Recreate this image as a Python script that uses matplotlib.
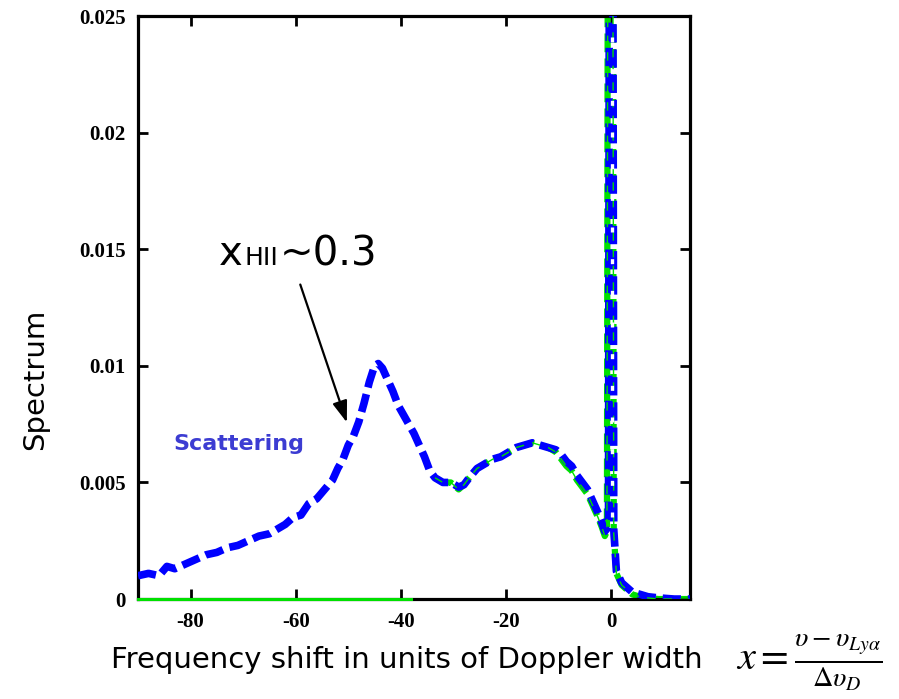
import matplotlib
matplotlib.use("Agg")
import matplotlib.pyplot as plt
from matplotlib.offsetbox import TextArea, HPacker, AnnotationBbox

# Spectrum (x in Doppler widths)
blue_x = [-90, -88, -86, -84.5, -83, -81, -79, -77, -75, -73, -71, -69, -67, -65,
          -63.5, -62, -60.5, -59, -57.5, -56, -54.5, -53, -52, -51, -50, -49, -48,
          -47, -46, -45, -44.3, -43.5, -42.5, -41.5, -40.5, -39.5, -38.5, -37.5,
          -36.5, -35.5, -34.5, -33.5, -32, -30.5, -29, -28, -27, -25.5, -24, -22.5,
          -21, -19.5, -18, -16.5, -15, -13.5, -12, -10.5, -9.5, -8.5, -7.5, -6.5,
          -5.5, -4.5, -3.5, -2.5, -1.8, -1.2, -0.5, -0.2, 0.2, 0.5, 1.0, 2.0, 3.0,
          4.0, 5.5, 7, 9, 12, 15]
blue_y = [0.0010, 0.0011, 0.0010, 0.0014, 0.0013, 0.0015, 0.0017, 0.0019, 0.0020,
          0.0022, 0.0023, 0.0025, 0.0027, 0.0028, 0.0030, 0.0032, 0.0035, 0.0036,
          0.0041, 0.0043, 0.0047, 0.0051, 0.0056, 0.0060, 0.0066, 0.0070, 0.0076,
          0.0084, 0.0093, 0.0100, 0.0101, 0.0099, 0.0094, 0.0089, 0.0083, 0.0079,
          0.0075, 0.0071, 0.0066, 0.0061, 0.0055, 0.0052, 0.0050, 0.0050, 0.0048,
          0.0049, 0.0052, 0.0056, 0.0058, 0.0060, 0.0061, 0.0063, 0.0065, 0.0066,
          0.0067, 0.0066, 0.0065, 0.0064, 0.0062, 0.0059, 0.0057, 0.0053, 0.0050,
          0.0047, 0.0042, 0.0037, 0.0033, 0.0029, 0.0031, 0.0500, 0.0500, 0.0030,
          0.0012, 0.0007, 0.0005, 0.0003, 0.0002, 0.0001, 0.00005, 0.0, 0.0]

green_x = [-33.5, -32, -30.5, -29, -28, -27, -25.5, -24, -22.5, -21, -19.5, -18,
           -16.5, -15, -13.5, -12, -10.5, -9.5, -8.5, -7.5, -6.5, -5.5, -4.5, -3.5,
           -2.5, -1.8, -1.2, -0.8, -0.5, 0.2, 0.5, 1.0, 2.0, 3.0, 4.0, 5.5, 7, 9, 12, 15]
green_y = [0.0052, 0.0050, 0.0050, 0.0047, 0.0049, 0.0052, 0.0056, 0.0058, 0.0060,
           0.0061, 0.0063, 0.0065, 0.0066, 0.0067, 0.0066, 0.0065, 0.0063, 0.0060,
           0.0057, 0.0055, 0.0051, 0.0048, 0.0045, 0.0040, 0.0035, 0.0031, 0.0027,
           0.0029, 0.0500, 0.0500, 0.0028, 0.0011, 0.0006, 0.0004, 0.0002, 0.0001,
           0.00005, 0.0, 0.0, 0.0]

green_base_x = [-90, -38]
green_base_y = [0, 0]

xticks = [-80, -60, -40, -20, 0]
yticks = [0, 0.005, 0.01, 0.015, 0.02, 0.025]
ytick_labels = ["0", "0.005", "0.01", "0.015", "0.02", "0.025"]

fig = plt.figure(figsize=(8.99, 6.99), dpi=100)
ax = fig.add_axes([0.1535, 0.143, 0.614, 0.834])

ax.plot(green_base_x, green_base_y, color="#00e000", lw=2.2, zorder=5, clip_on=False)
ax.plot(green_x, green_y, color="#00e000", lw=4.5, dashes=(3, 1), zorder=2)
ax.plot(blue_x, blue_y, color="#0000ff", lw=5.5, dashes=(2.4, 0.9), zorder=3)
ax.plot(green_x, green_y, color="#00e000", lw=1.0, dashes=(6, 6), zorder=4)
# white dashes inside the narrow peak
ax.plot([0.15, 0.15], [0.0035, 0.05], color="white", lw=2.4, dashes=(1.5, 8), zorder=4)

ax.set_xlim(-90, 15)
ax.set_ylim(0, 0.025)
ax.set_xticks(xticks)
ax.set_xticklabels([str(t) for t in xticks])
ax.set_yticks(yticks)
ax.set_yticklabels(ytick_labels)
ax.tick_params(direction="in", length=7, width=2, top=True, right=True, pad=9)
for lab in ax.get_xticklabels() + ax.get_yticklabels():
    lab.set_fontfamily("Liberation Serif")
    lab.set_fontweight("bold")
    lab.set_fontsize(15)
for sp in ax.spines.values():
    sp.set_linewidth(2.3)

fig.text(0.039, 0.458, "Spectrum", rotation=90, fontsize=21, ha="center", va="center",
         family="DejaVu Sans")
fig.text(0.453, 0.056, "Frequency shift in units of Doppler width", fontsize=21,
         ha="center", va="center", family="DejaVu Sans")

plt.rcParams["mathtext.fontset"] = "stix"
fig.text(0.9, 0.052, r"$x=\frac{\upsilon-\upsilon_{Ly\alpha}}{\Delta\upsilon_D}$",
         fontsize=29, ha="center", va="center")

ax.text(-70.8, 0.00665, "Scattering", color="#3c3cd2", fontsize=16, fontweight="bold",
        ha="center", va="center", family="DejaVu Sans")

label = HPacker(children=[TextArea("x", textprops=dict(fontsize=29, family="DejaVu Sans")),
                          TextArea("HII", textprops=dict(fontsize=18, family="DejaVu Sans")),
                          TextArea("~0.3", textprops=dict(fontsize=29, family="DejaVu Sans"))],
                align="baseline", pad=0, sep=1)
ab = AnnotationBbox(label, (-74.6, 0.0141), xycoords="data", box_alignment=(0, 0.1),
                    frameon=False)
ax.add_artist(ab)
ax.annotate("", xy=(-50.1, 0.00746), xytext=(-59.3, 0.0136),
            arrowprops=dict(arrowstyle="-|>,head_length=1.3,head_width=0.45",
                            color="black", lw=1.6))

fig.savefig("out.png", dpi=100)
